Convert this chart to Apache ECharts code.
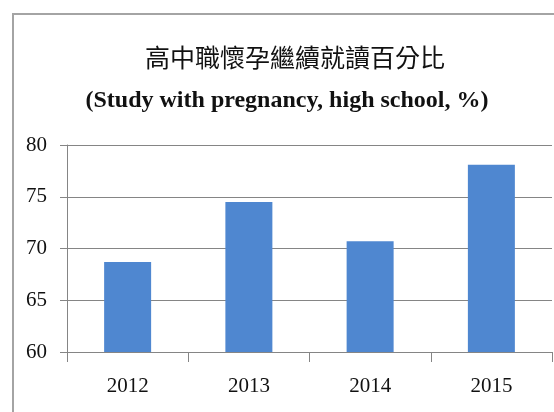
<!DOCTYPE html>
<html><head><meta charset="utf-8">
<script src="https://cdn.jsdelivr.net/npm/echarts@6/dist/echarts.min.js"></script>
<style>html,body{margin:0;padding:0;background:#fff}#c{width:554px;height:412px}</style>
</head><body><div id="c"></div>
<script>
const titleZh = '高中職懷孕繼續就讀百分比';
const titleEn = '(Study with pregnancy, high school, %)';
const years = ['2012', '2013', '2014', '2015'];
const values = [68.7, 74.5, 70.7, 78.1];
const yTicks = [60, 65, 70, 75, 80];

const chart = echarts.init(document.getElementById('c'), null, {renderer: 'canvas'});
chart.setOption({
  backgroundColor: '#fff',
  animation: false,
  graphic: [{
    type: 'rect', z: 100,
    shape: {x: 13, y: 14, width: 700, height: 600},
    style: {fill: 'none', stroke: '#a4a4a4', lineWidth: 2}
  }],
  title: [{
    text: titleZh, left: 290, top: 40, textAlign: 'center',
    textStyle: {fontFamily: 'Noto Sans CJK TC', fontWeight: 'normal', fontSize: 25, color: '#111'}
  }, {
    text: titleEn, left: 282, top: 84, textAlign: 'center',
    textStyle: {fontFamily: 'Liberation Serif', fontWeight: 'bold', fontSize: 24, color: '#111'}
  }],
  grid: {left: 67, right: 2, top: 145, bottom: 60},
  xAxis: {
    type: 'category', data: years,
    axisLine: {lineStyle: {color: '#858585', width: 1}},
    axisTick: {show: true, length: 10, alignWithLabel: false, lineStyle: {color: '#858585'}},
    axisLabel: {fontFamily: 'Liberation Serif', fontSize: 21, color: '#111', margin: 24}
  },
  yAxis: {
    type: 'value', min: yTicks[0], max: yTicks[yTicks.length - 1], interval: 5,
    axisLine: {show: true, lineStyle: {color: '#858585', width: 1}},
    axisTick: {show: true, length: 7, lineStyle: {color: '#858585'}},
    axisLabel: {fontFamily: 'Liberation Serif', fontSize: 21, color: '#111', margin: 20},
    splitLine: {lineStyle: {color: '#858585', width: 1}}
  },
  series: [{
    type: 'bar', data: values, barWidth: 47,
    itemStyle: {color: '#4f87d0'}
  }]
});
</script></body></html>
